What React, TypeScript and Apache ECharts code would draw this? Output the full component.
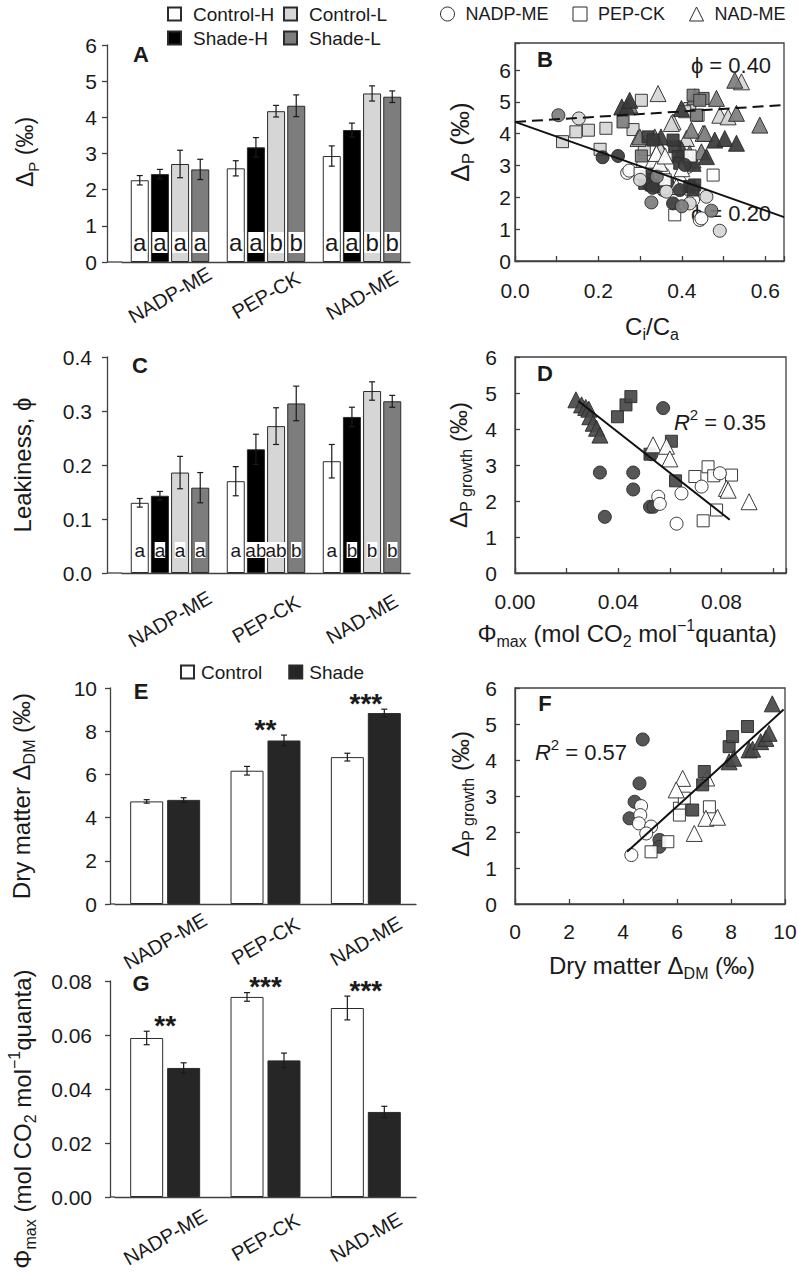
import React, { useEffect, useRef } from 'react';
import * as echarts from 'echarts';

const FONT = '"Liberation Sans", Arial, Helvetica, sans-serif';
const INK = '#1a1a1a';
const AXIS = '#404040';
const EDGE = '#2b2b2b';
const C_WHITE = '#ffffff';
const C_BLACK = '#000000';
const C_LIGHT = '#d6d6d6';
const C_MID = '#7d7d7d';
const C_DARK = '#3a3a3a';
const C_SHADE = '#262626';
const C_DF = '#484848';

// ---------- categories ----------
const GROUPS = ['NADP-ME', 'PEP-CK', 'NAD-ME'];

// ---------- Panel A: Delta_P (permil) ----------
const A_CONTROL_H = [2.26, 2.59, 2.93];
const A_SHADE_H = [2.43, 3.17, 3.65];
const A_CONTROL_L = [2.71, 4.17, 4.66];
const A_SHADE_L = [2.56, 4.32, 4.57];
const A_ERR_CONTROL_H = [0.13, 0.21, 0.28];
const A_ERR_SHADE_H = [0.13, 0.27, 0.19];
const A_ERR_CONTROL_L = [0.38, 0.16, 0.21];
const A_ERR_SHADE_L = [0.28, 0.3, 0.16];
const A_LET_CONTROL_H = ['a', 'a', 'a'];
const A_LET_SHADE_H = ['a', 'a', 'a'];
const A_LET_CONTROL_L = ['a', 'b', 'b'];
const A_LET_SHADE_L = ['a', 'b', 'b'];

// ---------- Panel C: leakiness ----------
const C_CONTROL_H = [0.13, 0.17, 0.207];
const C_SHADE_H = [0.143, 0.229, 0.289];
const C_CONTROL_L = [0.186, 0.272, 0.337];
const C_SHADE_L = [0.158, 0.314, 0.318];
const C_ERR_CONTROL_H = [0.008, 0.027, 0.031];
const C_ERR_SHADE_H = [0.008, 0.028, 0.018];
const C_ERR_CONTROL_L = [0.03, 0.034, 0.017];
const C_ERR_SHADE_L = [0.028, 0.032, 0.011];
const C_LET_CONTROL_H = ['a', 'a', 'a'];
const C_LET_SHADE_H = ['a', 'ab', 'b'];
const C_LET_CONTROL_L = ['a', 'ab', 'b'];
const C_LET_SHADE_L = ['a', 'b', 'b'];

// ---------- Panel E: dry matter Delta_DM ----------
const E_CONTROL = [4.75, 6.17, 6.8];
const E_SHADE = [4.82, 7.57, 8.84];
const E_ERR_CONTROL = [0.08, 0.2, 0.18];
const E_ERR_SHADE = [0.1, 0.25, 0.18];
const E_SIG = ['', '**', '***'];

// ---------- Panel G: Phi_max ----------
const G_CONTROL = [0.0589, 0.0741, 0.07];
const G_SHADE = [0.0478, 0.0506, 0.0315];
const G_ERR_CONTROL = [0.0025, 0.0016, 0.0044];
const G_ERR_SHADE = [0.0019, 0.0027, 0.0021];
const G_SIG = ['**', '***', '***'];

// ---------- Panel B: Delta_P vs Ci/Ca ----------
const B_NADP_CONTROL_H = [[0.269, 2.77], [0.274, 2.84], [0.307, 3.02], [0.355, 2.23], [0.359, 2.28], [0.395, 2.49], [0.415, 2.96], [0.422, 2.18], [0.427, 1.92], [0.443, 1.29], [0.447, 1.34], [0.355, 2.75]];
const B_NADP_SHADE_H = [[0.21, 3.26], [0.247, 3.3], [0.323, 2.39], [0.379, 1.81], [0.395, 2.23], [0.407, 3.02], [0.33, 2.3]];
const B_NADP_CONTROL_L = [[0.153, 4.48], [0.363, 2.18], [0.419, 1.81], [0.459, 2.02], [0.491, 0.95], [0.3, 2.55]];
const B_NADP_SHADE_L = [[0.104, 4.58], [0.327, 1.84], [0.471, 1.58], [0.4, 1.72], [0.34, 2.65]];
const B_PEP_CONTROL_H = [[0.475, 2.7], [0.383, 1.45], [0.36, 2.55], [0.42, 3.3], [0.3, 2.75]];
const B_PEP_SHADE_H = [[0.315, 2.65], [0.311, 2.44], [0.319, 2.55], [0.327, 2.39], [0.347, 2.34], [0.419, 2.34], [0.431, 2.39], [0.427, 2.23], [0.383, 3.59], [0.391, 3.28], [0.395, 3.07], [0.379, 3.8], [0.319, 3.9], [0.331, 3.8]];
const B_PEP_CONTROL_L = [[0.114, 3.75], [0.146, 4.06], [0.176, 4.11], [0.218, 4.17], [0.204, 3.51], [0.283, 4.13], [0.303, 5.05], [0.419, 4.79], [0.439, 4.58], [0.407, 4.69], [0.31, 3.5]];
const B_PEP_SHADE_L = [[0.259, 4.37], [0.303, 3.3], [0.451, 5.11], [0.427, 5.21], [0.435, 4.58], [0.443, 5.05], [0.34, 3.0]];
const B_NAD_CONTROL_H = [[0.331, 3.17], [0.347, 3.07], [0.339, 3.38], [0.363, 2.34], [0.387, 2.34], [0.4, 2.9], [0.36, 3.3]];
const B_NAD_SHADE_H = [[0.256, 4.84], [0.268, 4.84], [0.275, 5.05], [0.399, 4.79], [0.371, 2.49], [0.427, 3.07], [0.459, 3.28], [0.479, 3.8], [0.503, 3.85], [0.531, 3.7], [0.4, 3.5], [0.35, 3.9]];
const B_NAD_CONTROL_L = [[0.295, 3.85], [0.343, 5.26], [0.379, 4.37], [0.375, 4.32], [0.451, 4.01], [0.411, 3.85], [0.347, 3.59], [0.347, 3.54], [0.491, 4.58], [0.543, 5.63], [0.511, 4.53]];
const B_NAD_SHADE_L = [[0.275, 4.9], [0.431, 5.16], [0.483, 5.11], [0.531, 4.64], [0.587, 4.27], [0.527, 5.68], [0.423, 4.11], [0.455, 4.01], [0.427, 3.17], [0.299, 3.9], [0.335, 3.9], [0.419, 3.38], [0.447, 3.43]];
const B_PHI40 = [[0, 4.37], [0.645, 4.9]];
const B_PHI20 = [[0, 4.37], [0.645, 1.38]];

// ---------- Panel D: Delta_P growth vs Phi_max ----------
const D_NADP_CONTROL = [[0.0555, 2.12], [0.0561, 1.92], [0.0645, 2.21], [0.0626, 1.37], [0.0723, 2.4], [0.0794, 2.77]];
const D_NADP_SHADE = [[0.0329, 2.79], [0.0458, 2.79], [0.0458, 2.32], [0.0348, 1.56], [0.0523, 1.84], [0.0536, 1.84], [0.0574, 4.58], [0.0529, 3.3]];
const D_PEP_CONTROL = [[0.0697, 2.68], [0.0748, 2.95], [0.0839, 2.72], [0.0781, 1.75], [0.0729, 1.45], [0.077, 2.7]];
const D_PEP_SHADE = [[0.0397, 4.34], [0.043, 4.67], [0.0449, 4.9], [0.0523, 3.3], [0.0606, 3.66], [0.0622, 2.56]];
const D_NAD_CONTROL = [[0.0535, 3.56], [0.0587, 3.52], [0.06, 3.17], [0.0819, 2.35], [0.0826, 2.3], [0.0907, 1.98]];
const D_NAD_SHADE = [[0.0236, 4.81], [0.0258, 4.67], [0.0274, 4.6], [0.0286, 4.55], [0.029, 4.34], [0.0303, 4.16], [0.0316, 4.02], [0.0329, 3.83]];
const D_FIT = [[0.0245, 4.78], [0.0832, 1.48]];

// ---------- Panel F: Delta_P growth vs Delta_DM ----------
const F_NADP_CONTROL = [[4.67, 2.72], [4.64, 2.47], [4.59, 2.24], [5.04, 2.15], [4.86, 1.96], [4.31, 1.36]];
const F_NADP_SHADE = [[4.73, 4.57], [4.61, 3.35], [4.43, 2.84], [4.24, 2.38], [5.35, 1.78], [5.35, 1.59]];
const F_PEP_CONTROL = [[5.04, 1.45], [5.66, 1.73], [6.09, 2.66], [6.27, 2.94], [6.09, 2.47], [7.2, 2.7]];
const F_PEP_SHADE = [[6.58, 2.61], [6.95, 3.31], [7.01, 3.68], [7.93, 4.37], [8.06, 4.65], [8.61, 4.93]];
const F_NAD_CONTROL = [[6.21, 3.49], [5.97, 3.17], [6.64, 1.96], [7.07, 2.38], [7.5, 2.41], [7.1, 3.5]];
const F_NAD_SHADE = [[7.93, 3.95], [8.1, 4.05], [8.67, 4.28], [8.8, 4.3], [9.1, 4.51], [9.29, 4.6], [9.41, 4.74], [9.53, 5.56]];
const F_FIT = [[4.15, 1.45], [9.95, 5.4]];

// ---------- helpers ----------
function rich(size: number) {
  const sub = Math.round(size * 0.66);
  return {
    n: { fontSize: size, fontFamily: FONT, color: INK, lineHeight: size + 8 },
    i: { fontSize: size, fontFamily: FONT, color: INK, fontStyle: 'italic', lineHeight: size + 8 },
    s: { fontSize: sub, fontFamily: FONT, color: INK, lineHeight: sub, verticalAlign: 'bottom' },
    p: { fontSize: sub, fontFamily: FONT, color: INK, lineHeight: sub, verticalAlign: 'top' },
  };
}

function title(text: string, x: number, y: number, size: number, vertical: boolean) {
  return {
    type: 'text',
    x,
    y,
    rotation: vertical ? Math.PI / 2 : 0,
    silent: true,
    style: { text, rich: rich(size), align: 'center', verticalAlign: 'middle', fill: INK, fontFamily: FONT, fontSize: size },
  };
}

function letter(text: string, x: number, y: number) {
  return {
    type: 'text', x, y, silent: true,
    style: { text, fontFamily: FONT, fontSize: 22, fontWeight: 'bold', fill: INK, align: 'center', verticalAlign: 'middle' },
  };
}

function hline(x1: number, x2: number, y: number) {
  return { type: 'line', silent: true, shape: { x1, y1: y, x2, y2: y }, style: { stroke: AXIS, lineWidth: 1.3 } };
}

function barSeries(name: string, data: number[], color: string, gi: number, barW: number, gap: string, letters?: string[], lSize?: number, lDist?: number, lPad?: number) {
  return {
    type: 'bar', name, xAxisIndex: gi, yAxisIndex: gi, data,
    barWidth: barW, barGap: gap,
    itemStyle: { color, borderColor: EDGE, borderWidth: 1 },
    label: letters
      ? {
          show: true, position: 'insideBottom', distance: lDist,
          formatter: (p: any) => letters[p.dataIndex],
          fontSize: lSize, fontFamily: FONT, color: INK,
          backgroundColor: '#ffffff', padding: [0, lPad || 0, 0, lPad || 0], lineHeight: (lSize || 20) - 3,
        }
      : { show: false },
  };
}

function errSeries(gi: number, means: number[][], errs: number[][], barW: number, gapPx: number) {
  const n = means.length;
  const data: number[][] = [];
  means.forEach((m, s) => m.forEach((v, i) => data.push([i, v, errs[s][i], s])));
  return {
    type: 'custom', xAxisIndex: gi, yAxisIndex: gi, data, z: 6, silent: true, clip: false,
    encode: { x: 0, y: 1 },
    renderItem: (params: any, api: any) => {
      const i = api.value(0), v = api.value(1), e = api.value(2), s = api.value(3);
      const off = (s - (n - 1) / 2) * (barW + gapPx);
      const pt = api.coord([i, v + e]);
      const pb = api.coord([i, v - e]);
      const x = pt[0] + off;
      const cap = 3;
      const st = { stroke: INK, lineWidth: 1.2 };
      return {
        type: 'group',
        children: [
          { type: 'line', shape: { x1: x, y1: pt[1], x2: x, y2: pb[1] }, style: st },
          { type: 'line', shape: { x1: x - cap, y1: pt[1], x2: x + cap, y2: pt[1] }, style: st },
          { type: 'line', shape: { x1: x - cap, y1: pb[1], x2: x + cap, y2: pb[1] }, style: st },
        ],
      };
    },
  };
}

function starSeries(gi: number, c: number[], ce: number[], s: number[], se: number[], sig: string[]) {
  const data = c.map((v, i) => [i, Math.max(v + ce[i], s[i] + se[i])]);
  return {
    type: 'custom', xAxisIndex: gi, yAxisIndex: gi, data, z: 7, silent: true, clip: false,
    encode: { x: 0, y: 1 },
    renderItem: (params: any, api: any) => {
      const t = sig[params.dataIndex];
      if (!t) return null;
      const p = api.coord([api.value(0), api.value(1)]);
      return {
        type: 'text', x: p[0], y: p[1] - 6,
        style: { text: t, fontFamily: FONT, fontSize: 28, fontWeight: 'bold', fill: INK, align: 'center', verticalAlign: 'middle' },
      };
    },
  };
}

function scat(name: string, symbol: string, data: number[][], color: string, gi: number) {
  return {
    type: 'scatter', name, xAxisIndex: gi, yAxisIndex: gi, data, symbol,
    symbolSize: symbol === 'triangle' ? 16 : symbol === 'rect' ? 12 : 13,
    itemStyle: { color, borderColor: EDGE, borderWidth: 1, opacity: 0.92 },
  };
}

function fitLine(data: number[][], gi: number, dashed: boolean) {
  return {
    type: 'line', xAxisIndex: gi, yAxisIndex: gi, data, symbol: 'none', silent: true, z: 8,
    lineStyle: { color: '#111', width: 2, type: dashed ? [11, 6] : 'solid' },
  };
}

const tickLabel = { fontSize: 21, fontFamily: FONT, color: INK };
const axLine = { show: true, onZero: false, lineStyle: { color: AXIS, width: 1.3 } };

function catAxis(gi: number, margin: number) {
  return {
    gridIndex: gi, type: 'category', data: GROUPS,
    axisLine: axLine, axisTick: { show: false },
    axisLabel: { ...tickLabel, fontSize: 20, rotate: 30, align: 'center', verticalAlign: 'middle', margin, interval: 0, hideOverlap: false },
    splitLine: { show: false },
  };
}

function barValueAxis(gi: number, max: number, interval: number, dec: number, offset: number, margin: number) {
  return {
    gridIndex: gi, type: 'value', min: 0, max, interval, offset,
    axisLine: axLine, axisTick: { show: true, length: 5, lineStyle: { color: AXIS, width: 1.3 } },
    axisLabel: { ...tickLabel, margin, formatter: (v: number) => v.toFixed(dec) },
    splitLine: { show: false },
  };
}

function boxAxis(gi: number, max: number, interval: number, margin: number, fmt: (v: number) => string) {
  return {
    gridIndex: gi, type: 'value', min: 0, max, interval,
    axisLine: axLine,
    axisTick: { show: true, inside: true, length: 5, lineStyle: { color: AXIS, width: 1.3 } },
    axisLabel: { ...tickLabel, margin, formatter: fmt },
    splitLine: { show: false },
  };
}

const near = (a: number, b: number) => Math.abs(a - b) < 1e-6;
const intFmt = (v: number) => (near(v, Math.round(v)) ? String(Math.round(v)) : '');

const plainGrid = { outerBoundsMode: 'none', containLabel: false };
const boxGrid = { ...plainGrid, show: true, borderColor: AXIS, borderWidth: 1.3, backgroundColor: 'transparent' };

const A_W = 18, A_G = '12%', A_GPX = 18 * 0.12;
const E_W = 33, E_G = '12%', E_GPX = 33 * 0.12;

const legendText = { fontSize: 19, fontFamily: FONT, color: INK, lineHeight: 20 };

const option: any = {
  animation: false,
  backgroundColor: '#ffffff',
  textStyle: { fontFamily: FONT },
  grid: [
    { left: 122, top: 45, width: 288, height: 217, ...plainGrid },
    { left: 515, top: 43, width: 269, height: 218, ...boxGrid },
    { left: 122, top: 357, width: 288, height: 216, ...plainGrid },
    { left: 515, top: 357, width: 271, height: 216, ...boxGrid },
    { left: 115, top: 688, width: 301, height: 216, ...plainGrid },
    { left: 515, top: 688, width: 270, height: 216, ...boxGrid },
    { left: 115, top: 981, width: 301, height: 216, ...plainGrid },
  ],
  xAxis: [
    catAxis(0, 33),
    boxAxis(1, 0.645, 0.1, 19, (v: number) => {
      const k = Math.round(v * 10);
      return near(v * 10, k) && k % 2 === 0 ? (k / 10).toFixed(1) : '';
    }),
    catAxis(2, 46),
    boxAxis(3, 0.105, 0.02, 18, (v: number) => {
      const k = Math.round(v / 0.02);
      return near(v / 0.02, k) && k % 2 === 0 && k <= 4 ? (k * 0.02).toFixed(2) : '';
    }),
    catAxis(4, 37),
    boxAxis(5, 10, 2, 17, (v: number) => String(Math.round(v))),
    catAxis(6, 40),
  ],
  yAxis: [
    barValueAxis(0, 6, 1, 0, 15, 10),
    boxAxis(1, 6.85, 1, 4, intFmt),
    barValueAxis(2, 0.4, 0.1, 1, 15, 15),
    boxAxis(3, 6, 1, 18, intFmt),
    barValueAxis(4, 10, 2, 0, 5, 13),
    boxAxis(5, 6, 1, 18, intFmt),
    barValueAxis(6, 0.08, 0.02, 2, 5, 18),
  ],
  legend: [
    { data: [{ name: 'Control-H', icon: 'rect' }, { name: 'Shade-H', icon: 'rect' }], orient: 'vertical', left: 167, top: 4, padding: 0, itemWidth: 13, itemHeight: 13, itemGap: 4, selectedMode: false, textStyle: { ...legendText, padding: [0, 0, 0, 7] } },
    { data: [{ name: 'Control-L', icon: 'rect' }, { name: 'Shade-L', icon: 'rect' }], orient: 'vertical', left: 283, top: 4, padding: 0, itemWidth: 13, itemHeight: 13, itemGap: 4, selectedMode: false, textStyle: { ...legendText, padding: [0, 0, 0, 7] } },
    {
      data: [{ name: 'NADP-ME', icon: 'circle' }, { name: 'PEP-CK', icon: 'rect' }, { name: 'NAD-ME', icon: 'triangle' }],
      left: 440, top: 4, padding: 0, itemWidth: 14, itemHeight: 14, itemGap: 24, selectedMode: false,
      itemStyle: { color: '#ffffff', borderColor: EDGE, borderWidth: 1, opacity: 1 },
      textStyle: { ...legendText, fontSize: 18, padding: [0, 0, 0, 6] },
    },
    { data: [{ name: 'Control', icon: 'rect' }, { name: 'Shade', icon: 'rect' }], left: 180, top: 662, padding: 0, itemWidth: 13, itemHeight: 13, itemGap: 26, selectedMode: false, textStyle: { ...legendText, padding: [0, 0, 0, 2] } },
  ],
  series: [
    // Panel A
    barSeries('Control-H', A_CONTROL_H, C_WHITE, 0, A_W, A_G, A_LET_CONTROL_H, 24, 9, 1),
    barSeries('Shade-H', A_SHADE_H, C_BLACK, 0, A_W, A_G, A_LET_SHADE_H, 24, 9, 1),
    barSeries('Control-L', A_CONTROL_L, C_LIGHT, 0, A_W, A_G, A_LET_CONTROL_L, 24, 9, 1),
    barSeries('Shade-L', A_SHADE_L, C_MID, 0, A_W, A_G, A_LET_SHADE_L, 24, 9, 1),
    errSeries(0, [A_CONTROL_H, A_SHADE_H, A_CONTROL_L, A_SHADE_L], [A_ERR_CONTROL_H, A_ERR_SHADE_H, A_ERR_CONTROL_L, A_ERR_SHADE_L], A_W, A_GPX),
    // Panel C
    barSeries('Control-H', C_CONTROL_H, C_WHITE, 2, A_W, A_G, C_LET_CONTROL_H, 19, 15, 0),
    barSeries('Shade-H', C_SHADE_H, C_BLACK, 2, A_W, A_G, C_LET_SHADE_H, 19, 15, 0),
    barSeries('Control-L', C_CONTROL_L, C_LIGHT, 2, A_W, A_G, C_LET_CONTROL_L, 19, 15, 0),
    barSeries('Shade-L', C_SHADE_L, C_MID, 2, A_W, A_G, C_LET_SHADE_L, 19, 15, 0),
    errSeries(2, [C_CONTROL_H, C_SHADE_H, C_CONTROL_L, C_SHADE_L], [C_ERR_CONTROL_H, C_ERR_SHADE_H, C_ERR_CONTROL_L, C_ERR_SHADE_L], A_W, A_GPX),
    // Panel E
    barSeries('Control', E_CONTROL, C_WHITE, 4, E_W, E_G),
    barSeries('Shade', E_SHADE, C_SHADE, 4, E_W, E_G),
    errSeries(4, [E_CONTROL, E_SHADE], [E_ERR_CONTROL, E_ERR_SHADE], E_W, E_GPX),
    starSeries(4, E_CONTROL, E_ERR_CONTROL, E_SHADE, E_ERR_SHADE, E_SIG),
    // Panel G
    barSeries('Control', G_CONTROL, C_WHITE, 6, E_W, E_G),
    barSeries('Shade', G_SHADE, C_SHADE, 6, E_W, E_G),
    errSeries(6, [G_CONTROL, G_SHADE], [G_ERR_CONTROL, G_ERR_SHADE], E_W, E_GPX),
    starSeries(6, G_CONTROL, G_ERR_CONTROL, G_SHADE, G_ERR_SHADE, G_SIG),
    // Panel B
    scat('NADP-ME', 'circle', B_NADP_CONTROL_H, C_WHITE, 1),
    scat('PEP-CK', 'rect', B_PEP_CONTROL_L, C_LIGHT, 1),
    scat('NAD-ME', 'triangle', B_NAD_CONTROL_L, C_LIGHT, 1),
    scat('NAD-ME', 'triangle', B_NAD_SHADE_L, C_MID, 1),
    scat('NAD-ME', 'triangle', B_NAD_SHADE_H, C_DARK, 1),
    scat('PEP-CK', 'rect', B_PEP_SHADE_L, C_MID, 1),
    scat('PEP-CK', 'rect', B_PEP_SHADE_H, C_DARK, 1),
    scat('NAD-ME', 'triangle', B_NAD_CONTROL_H, C_WHITE, 1),
    scat('PEP-CK', 'rect', B_PEP_CONTROL_H, C_WHITE, 1),
    scat('NADP-ME', 'circle', B_NADP_SHADE_H, C_DARK, 1),
    scat('NADP-ME', 'circle', B_NADP_CONTROL_L, C_LIGHT, 1),
    scat('NADP-ME', 'circle', B_NADP_SHADE_L, C_MID, 1),
    fitLine(B_PHI40, 1, true),
    fitLine(B_PHI20, 1, false),
    // Panel D
    scat('NAD-ME', 'triangle', D_NAD_SHADE, C_DF, 3),
    scat('PEP-CK', 'rect', D_PEP_SHADE, C_DF, 3),
    scat('NADP-ME', 'circle', D_NADP_SHADE, C_DF, 3),
    scat('PEP-CK', 'rect', D_PEP_CONTROL, C_WHITE, 3),
    scat('NADP-ME', 'circle', D_NADP_CONTROL, C_WHITE, 3),
    scat('NAD-ME', 'triangle', D_NAD_CONTROL, C_WHITE, 3),
    fitLine(D_FIT, 3, false),
    // Panel F
    scat('NADP-ME', 'circle', F_NADP_SHADE, C_DF, 5),
    scat('NADP-ME', 'circle', F_NADP_CONTROL, C_WHITE, 5),
    scat('PEP-CK', 'rect', F_PEP_CONTROL, C_WHITE, 5),
    scat('NAD-ME', 'triangle', F_NAD_CONTROL, C_WHITE, 5),
    scat('PEP-CK', 'rect', F_PEP_SHADE, C_DF, 5),
    scat('NAD-ME', 'triangle', F_NAD_SHADE, C_DF, 5),
    fitLine(F_FIT, 5, false),
  ],
  graphic: [
    hline(107, 122, 262),
    hline(107, 122, 573),
    hline(110, 115, 904),
    hline(110, 115, 1197),
    letter('A', 141, 54),
    letter('B', 545, 59),
    letter('C', 140, 365),
    letter('D', 545, 373),
    letter('E', 141, 691),
    letter('F', 545, 703),
    letter('G', 141, 983),
    title('{n|Δ}{s|P}{n| (‰)}', 25, 152, 23, true),
    title('{n|Δ}{s|P}{n| (‰)}', 460, 142, 26, true),
    title('{n|C}{s|i}{n|/C}{s|a}', 652, 326, 24, false),
    title('{n|Leakiness, ϕ}', 22, 465, 24, true),
    title('{n|Δ}{s|P growth}{n| (‰)}', 458, 465, 24, true),
    title('{n|Φ}{s|max}{n| (mol CO}{s|2}{n| mol}{p|−1}{n|quanta)}', 627, 633, 24, false),
    title('{n|Dry matter Δ}{s|DM}{n| (‰)}', 21, 796, 24, true),
    title('{n|Δ}{s|P growth}{n| (‰)}', 460, 794, 24, true),
    title('{n|Dry matter Δ}{s|DM}{n| (‰)}', 652, 965, 24, false),
    title('{n|Φ}{s|max}{n| (mol CO}{s|2}{n| mol}{p|−1}{n|quanta)}', 22, 1119, 24, true),
    title('{n|ϕ = 0.40}', 731, 65, 22, false),
    title('{n|ϕ = 0.20}', 731, 213, 22, false),
    title('{i|R}{p|2}{n| = 0.35}', 720, 422, 22, false),
    title('{i|R}{p|2}{n| = 0.57}', 581, 752, 22, false),
  ],
};

export default function App() {
  const ref = useRef<HTMLDivElement>(null);
  useEffect(() => {
    document.body.style.margin = '0';
    const chart = echarts.init(ref.current as HTMLDivElement, undefined, { renderer: 'svg', width: 798, height: 1272 });
    chart.setOption(option);
    return () => chart.dispose();
  }, []);
  return <div ref={ref} style={{ position: 'absolute', left: 0, top: 0, width: 798, height: 1272, background: '#fff' }} />;
}
